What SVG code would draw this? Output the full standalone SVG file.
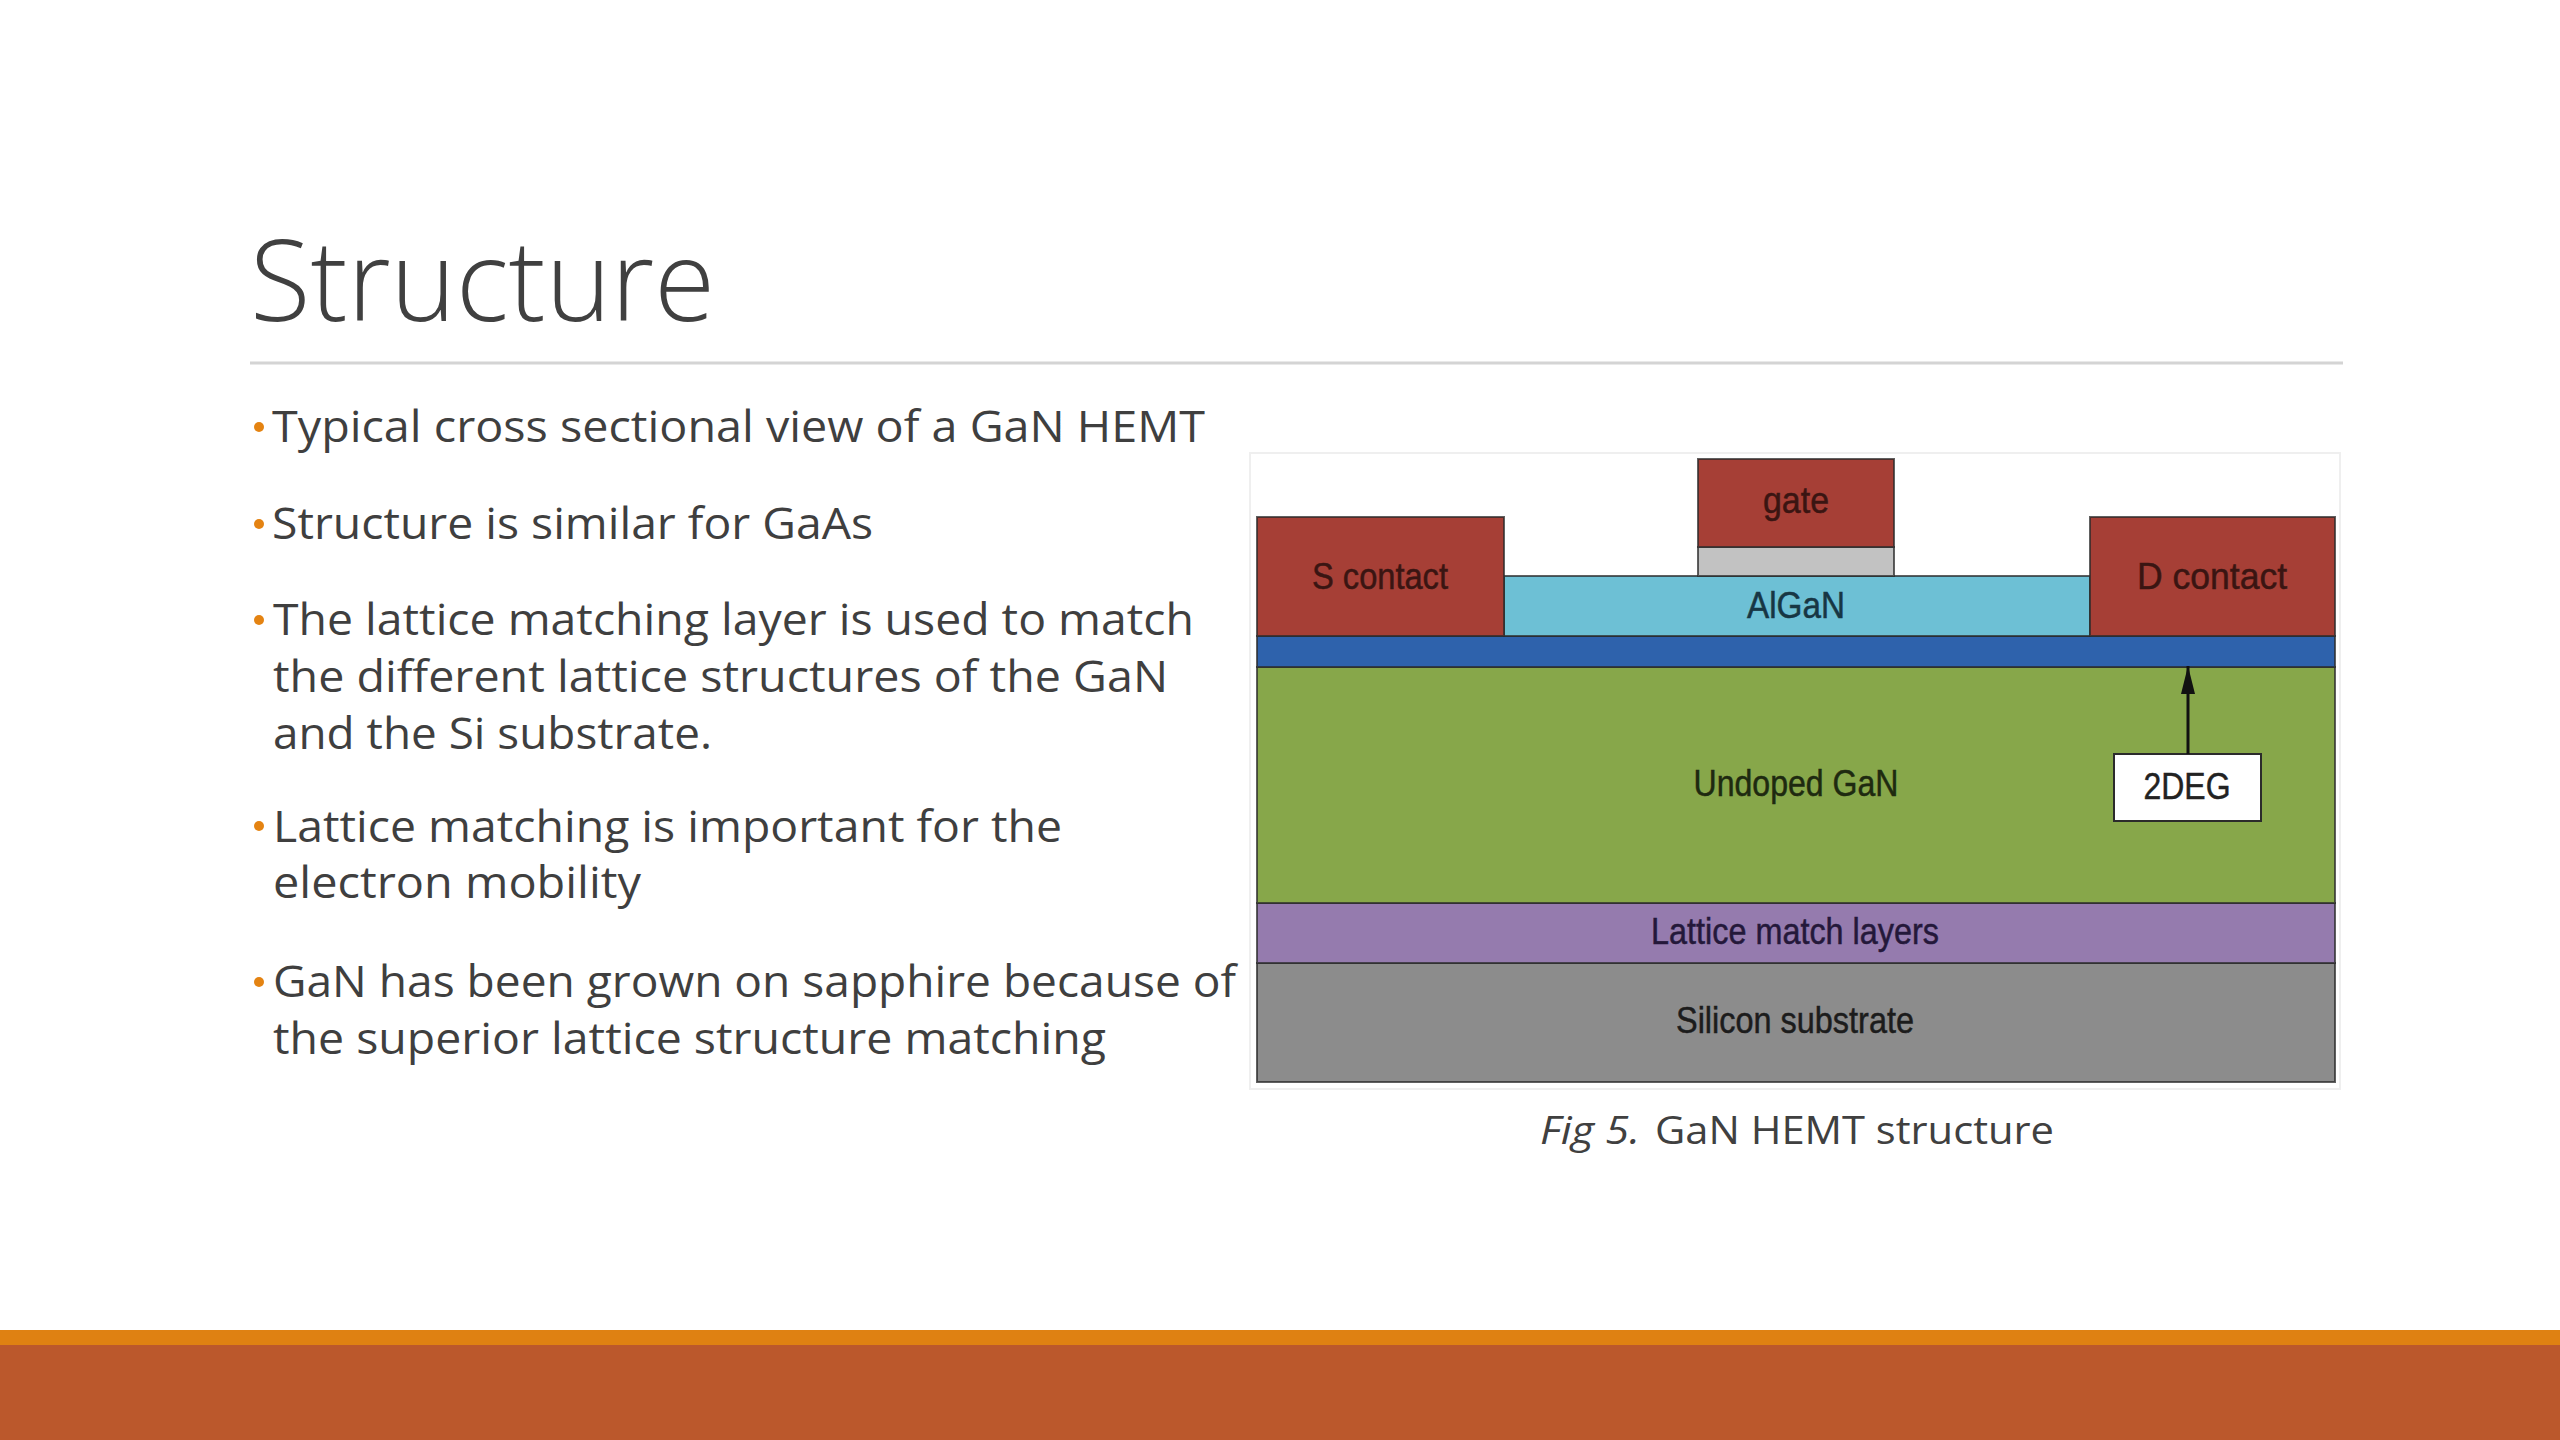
<svg xmlns="http://www.w3.org/2000/svg" width="2560" height="1440" viewBox="0 0 2560 1440">
<style>
.body{font-family:"Open Sans","Lato","Liberation Sans",sans-serif;font-size:44px;fill:#3f3f3f}
.title{font-family:"Open Sans","Lato","Liberation Sans",sans-serif;font-weight:300;font-size:113px;fill:#404040}
.cap{font-family:"Open Sans","Lato","Liberation Sans",sans-serif;font-size:38px;fill:#404040}
.lbl{font-family:"Liberation Sans",Arial,sans-serif;font-size:37px;text-anchor:middle;stroke-width:0.5}
.layer{stroke:#2b2b2b;stroke-width:2;stroke-opacity:0.75}
.dot{fill:#e48312}
</style>
<defs>
<marker id="ah" markerWidth="28" markerHeight="14" refX="28" refY="7" orient="auto" markerUnits="userSpaceOnUse" viewBox="0 0 28 14">
<path d="M0,0 L28,7 L0,14 Z" fill="#111"/>
</marker>
</defs>
<rect width="2560" height="1440" fill="#ffffff"/>

<g id="title">
<text class="title" x="250" y="321" textLength="465" lengthAdjust="spacingAndGlyphs">Structure</text>
<line x1="250" y1="363" x2="2343" y2="363" stroke="#d4d4d4" stroke-width="3"/>
</g>

<g id="bullets">
<circle class="dot" cx="259" cy="427" r="5"/>
<text class="body" x="272" y="442" textLength="933" lengthAdjust="spacingAndGlyphs">Typical cross sectional view of a GaN HEMT</text>
<circle class="dot" cx="259" cy="524" r="5"/>
<text class="body" x="272" y="539" textLength="601" lengthAdjust="spacingAndGlyphs">Structure is similar for GaAs</text>
<circle class="dot" cx="259" cy="620" r="5"/>
<text class="body" x="273" y="635" textLength="921" lengthAdjust="spacingAndGlyphs">The lattice matching layer is used to match</text>
<text class="body" x="273" y="692" textLength="895" lengthAdjust="spacingAndGlyphs">the different lattice structures of the GaN</text>
<text class="body" x="273" y="749" textLength="439" lengthAdjust="spacingAndGlyphs">and the Si substrate.</text>
<circle class="dot" cx="259" cy="826" r="5"/>
<text class="body" x="273" y="842" textLength="789" lengthAdjust="spacingAndGlyphs">Lattice matching is important for the</text>
<text class="body" x="273" y="898" textLength="368" lengthAdjust="spacingAndGlyphs">electron mobility</text>
<circle class="dot" cx="259" cy="982" r="5"/>
<text class="body" x="273" y="997" textLength="963" lengthAdjust="spacingAndGlyphs">GaN has been grown on sapphire because of</text>
<text class="body" x="273" y="1054" textLength="833" lengthAdjust="spacingAndGlyphs">the superior lattice structure matching</text>
</g>

<g id="figure">
<rect x="1250" y="453" width="1090" height="636" fill="#ffffff" stroke="#efefef" stroke-width="2"/>
<g id="silicon-substrate">
<rect class="layer" x="1257" y="963" width="1078" height="119" fill="#8c8c8c"/>
<text class="lbl" x="1795" y="1033" fill="#1c1c1c" stroke="#1c1c1c" textLength="238" lengthAdjust="spacingAndGlyphs">Silicon substrate</text>
</g>
<g id="lattice-match-layers">
<rect class="layer" x="1257" y="903" width="1078" height="60" fill="#957bae"/>
<text class="lbl" x="1795" y="944" fill="#24183a" stroke="#24183a" textLength="288" lengthAdjust="spacingAndGlyphs">Lattice match layers</text>
</g>
<g id="undoped-gan">
<rect class="layer" x="1257" y="667" width="1078" height="236" fill="#87a74a"/>
<text class="lbl" x="1796" y="796" fill="#1e2a10" stroke="#1e2a10" textLength="205" lengthAdjust="spacingAndGlyphs">Undoped GaN</text>
</g>
<g id="channel">
<rect class="layer" x="1257" y="636" width="1078" height="31" fill="#2e62ac"/>
</g>
<g id="algan">
<rect class="layer" x="1504" y="576" width="586" height="60" fill="#6dc0d5"/>
<text class="lbl" x="1796" y="618" fill="#173644" stroke="#173644" textLength="98" lengthAdjust="spacingAndGlyphs">AlGaN</text>
</g>
<g id="s-contact">
<rect class="layer" x="1257" y="517" width="247" height="119" fill="#a63f36"/>
<text class="lbl" x="1380" y="589" fill="#3a1512" stroke="#3a1512" textLength="136" lengthAdjust="spacingAndGlyphs">S contact</text>
</g>
<g id="d-contact">
<rect class="layer" x="2090" y="517" width="245" height="119" fill="#a63f36"/>
<text class="lbl" x="2212" y="589" fill="#3a1512" stroke="#3a1512" textLength="150" lengthAdjust="spacingAndGlyphs">D contact</text>
</g>
<g id="gate">
<rect class="layer" x="1698" y="547" width="196" height="29" fill="#c2c2c2"/>
<rect class="layer" x="1698" y="459" width="196" height="88" fill="#a63f36"/>
<text class="lbl" x="1796" y="513" fill="#3a1512" stroke="#3a1512" textLength="66" lengthAdjust="spacingAndGlyphs">gate</text>
</g>
<g id="twodeg">
<rect x="2114" y="754" width="147" height="67" fill="#ffffff" stroke="#2b2b2b" stroke-width="2"/>
<text class="lbl" x="2187" y="799" fill="#222222" stroke="#222222" textLength="87" lengthAdjust="spacingAndGlyphs">2DEG</text>
</g>
</g>

<g id="connectors">
<line x1="2188" y1="754" x2="2188" y2="666" stroke="#111" stroke-width="3" marker-end="url(#ah)"/>
</g>

<g id="caption">
<text class="cap" x="1540" y="1144" font-style="italic" textLength="100" lengthAdjust="spacingAndGlyphs">Fig 5.</text>
<text class="cap" x="1655" y="1144" textLength="399" lengthAdjust="spacingAndGlyphs">GaN HEMT structure</text>
</g>

<g id="footer">
<rect x="0" y="1330" width="2560" height="16" fill="#df8112"/>
<rect x="0" y="1345" width="2560" height="95" fill="#bb582c"/>
</g>
</svg>
